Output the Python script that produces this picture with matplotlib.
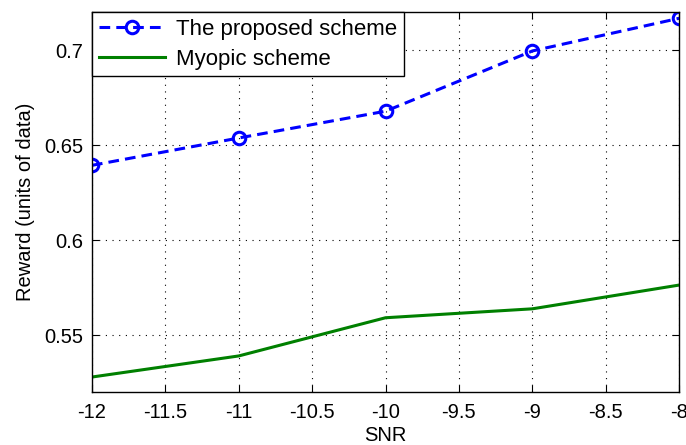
import matplotlib
matplotlib.use("Agg")
import matplotlib.pyplot as plt

# values
snr = [-12, -11, -10, -9, -8]
proposed = [0.6393, 0.6537, 0.6678, 0.6995, 0.7167]
myopic = [0.5279, 0.5390, 0.5591, 0.5638, 0.5763]

plt.rcParams['font.family'] = ['Liberation Sans', 'DejaVu Sans']

fig = plt.figure(figsize=(6.86, 4.45), dpi=100)
ax = fig.add_axes([0.134, 0.119, 0.856, 0.854])

ax.plot(snr, proposed, color='blue', linestyle='--', linewidth=2.2,
        marker='o', markersize=9, markerfacecolor='none', markeredgewidth=2.2,
        dashes=(3.5, 2), label='The proposed scheme')
ax.plot(snr, myopic, color='#008000', linestyle='-', linewidth=2.2,
        label='Myopic scheme')

ax.set_xlim(-12, -8)
ax.set_ylim(0.52, 0.72)
ax.set_xticks([-12, -11.5, -11, -10.5, -10, -9.5, -9, -8.5, -8])
ax.set_xticklabels(['-12', '-11.5', '-11', '-10.5', '-10', '-9.5', '-9', '-8.5', '-8'])
ax.set_yticks([0.55, 0.6, 0.65, 0.7])
ax.set_yticklabels(['0.55', '0.6', '0.65', '0.7'])

ax.grid(True, color='black', linestyle=(0, (1, 5)), linewidth=0.8)
ax.tick_params(direction='in', top=True, right=True, length=5, labelsize=14.5)
ax.tick_params(axis='x', pad=8)
ax.tick_params(axis='y', pad=6)
for s in ax.spines.values():
    s.set_linewidth(1.0)

ax.set_xlabel('SNR', fontsize=14.5, labelpad=3)
ax.set_ylabel('Reward (units of data)', fontsize=14.5, labelpad=7)

leg = ax.legend(loc='upper left', fontsize=16, numpoints=1, fancybox=False,
                framealpha=1, edgecolor='black', borderaxespad=0,
                handlelength=3.0, handletextpad=0.5, borderpad=0.3,
                labelspacing=0.4)
leg.get_frame().set_linewidth(1.0)

fig.savefig('out.png', dpi=100)
